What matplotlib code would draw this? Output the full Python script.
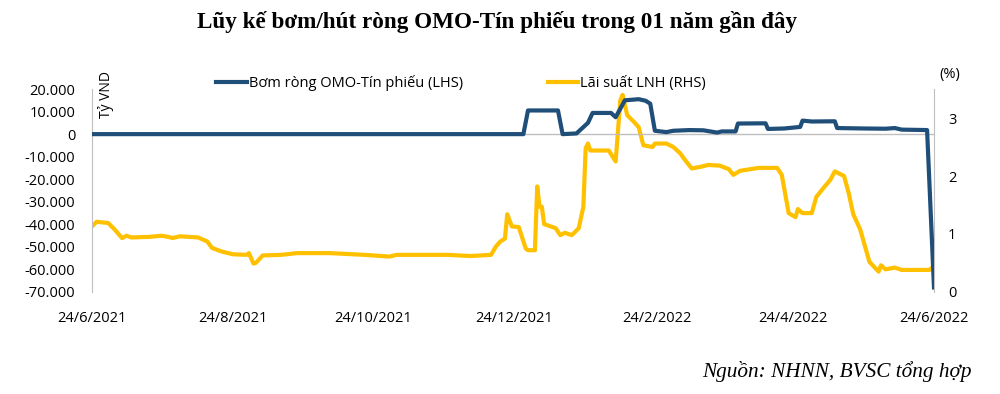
import matplotlib
matplotlib.use("Agg")
import matplotlib.pyplot as plt
import pandas as pd

plt.rcParams["font.family"] = ["Open Sans", "DejaVu Sans"]

# net OMO / bill injection, bn VND (left axis)
omo_dates = [
    "2021-06-24", "2021-12-28", "2021-12-30", "2022-01-12", "2022-01-14",
    "2022-01-20", "2022-01-25", "2022-01-27", "2022-02-04", "2022-02-06",
    "2022-02-10", "2022-02-16", "2022-02-19", "2022-02-21", "2022-02-23",
    "2022-02-28", "2022-03-03", "2022-03-10", "2022-03-16", "2022-03-22",
    "2022-03-24", "2022-03-30", "2022-03-31", "2022-04-12", "2022-04-13",
    "2022-04-20", "2022-04-27", "2022-04-28", "2022-05-02", "2022-05-12",
    "2022-05-13", "2022-05-25", "2022-06-03", "2022-06-07", "2022-06-10",
    "2022-06-21", "2022-06-24",
]
omo_values = [
    0, 0, 10500, 10500, 0,
    300, 5000, 9400, 9400, 7500,
    15000, 15500, 14800, 13500, 1500,
    900, 1500, 1800, 1700, 700,
    1200, 1200, 4700, 4800, 2300,
    2500, 3200, 6000, 5600, 5700,
    2700, 2500, 2400, 2700, 2000,
    1800, -68000,
]

# interbank rate, % (right axis)
lnh_dates = [
    "2021-06-24", "2021-06-26", "2021-07-01", "2021-07-04", "2021-07-07",
    "2021-07-09", "2021-07-11", "2021-07-19", "2021-07-24", "2021-07-27",
    "2021-07-29", "2021-08-01", "2021-08-09", "2021-08-13", "2021-08-15",
    "2021-08-19", "2021-08-24", "2021-08-30", "2021-08-31", "2021-09-02",
    "2021-09-03", "2021-09-06", "2021-09-14", "2021-09-21", "2021-10-05",
    "2021-10-20", "2021-10-31", "2021-11-03", "2021-11-11", "2021-11-25",
    "2021-12-05", "2021-12-14", "2021-12-16", "2021-12-18", "2021-12-20",
    "2021-12-21", "2021-12-23", "2021-12-26", "2021-12-29", "2021-12-30",
    "2022-01-02", "2022-01-03", "2022-01-04", "2022-01-05", "2022-01-06",
    "2022-01-11", "2022-01-13", "2022-01-15", "2022-01-18", "2022-01-21",
    "2022-01-23", "2022-01-24", "2022-01-25", "2022-01-26", "2022-02-03",
    "2022-02-06", "2022-02-08", "2022-02-09", "2022-02-11", "2022-02-14",
    "2022-02-16", "2022-02-18", "2022-02-22", "2022-02-23", "2022-02-28",
    "2022-03-03", "2022-03-06", "2022-03-08", "2022-03-11", "2022-03-15",
    "2022-03-18", "2022-03-23", "2022-03-27", "2022-03-29", "2022-04-01",
    "2022-04-09", "2022-04-17", "2022-04-19", "2022-04-22", "2022-04-25",
    "2022-04-26", "2022-04-28", "2022-05-02", "2022-05-04", "2022-05-07",
    "2022-05-10", "2022-05-12", "2022-05-16", "2022-05-18", "2022-05-20",
    "2022-05-23", "2022-05-27", "2022-05-31", "2022-06-01", "2022-06-03",
    "2022-06-07", "2022-06-10", "2022-06-22", "2022-06-24",
]
lnh_values = [
    1.13, 1.21, 1.19, 1.07, 0.93,
    0.97, 0.94, 0.95, 0.97, 0.95,
    0.93, 0.96, 0.94, 0.87, 0.76,
    0.70, 0.65, 0.64, 0.67, 0.49,
    0.50, 0.63, 0.64, 0.67, 0.67,
    0.64, 0.61, 0.64, 0.64, 0.64,
    0.62, 0.64, 0.78, 0.87, 0.92,
    1.34, 1.13, 1.12, 0.75, 0.72,
    0.72, 1.82, 1.47, 1.47, 1.17,
    1.10, 0.98, 1.02, 0.98, 1.10,
    1.47, 2.48, 2.56, 2.44, 2.44,
    2.25, 3.30, 3.40, 3.05, 2.93,
    2.84, 2.53, 2.50, 2.56, 2.56,
    2.50, 2.39, 2.28, 2.13, 2.16,
    2.19, 2.18, 2.12, 2.02, 2.09,
    2.14, 2.14, 2.02, 1.36, 1.29,
    1.43, 1.36, 1.36, 1.64, 1.79,
    1.93, 2.08, 2.00, 1.71, 1.34,
    1.08, 0.52, 0.35, 0.46, 0.39,
    0.42, 0.38, 0.38, 0.45,
]

tick_dates = ["2021-06-24", "2021-08-24", "2021-10-24", "2021-12-24",
              "2022-02-24", "2022-04-24", "2022-06-24"]
tick_labels = ["24/6/2021", "24/8/2021", "24/10/2021", "24/12/2021",
               "24/2/2022", "24/4/2022", "24/6/2022"]
left_ticks = list(range(-70000, 20001, 10000))
right_ticks = [0, 1, 2, 3]

BLUE = "#1F4E79"
YELLOW = "#FFC000"
GREY = "#BFBFBF"

fig = plt.figure(figsize=(10, 3.94), dpi=100)
ax = fig.add_axes([0.092, 0.259, 0.842, 0.515])
ax2 = ax.twinx()

omo_x = pd.to_datetime(omo_dates)
lnh_x = pd.to_datetime(lnh_dates)

ax.axhline(0, color=GREY, linewidth=1, zorder=1)
(l1,) = ax.plot(omo_x, omo_values, color=BLUE, linewidth=3,
                solid_joinstyle="round", label="Bơm ròng OMO-Tín phiếu (LHS)", zorder=3)
(l2,) = ax2.plot(lnh_x, lnh_values, color=YELLOW, linewidth=3,
                 solid_joinstyle="round", label="Lãi suất LNH (RHS)", zorder=2)
ax.set_zorder(ax2.get_zorder() + 1)
ax.patch.set_visible(False)

ax.set_xlim(pd.Timestamp("2021-06-24"), pd.Timestamp("2022-06-24"))
ax.set_ylim(-70000, 20000)
ax2.set_ylim(0, 3.5)

ax.set_yticks(left_ticks)
ax.set_yticklabels([f"{v:,}".replace(",", ".") for v in left_ticks])
ax2.set_yticks(right_ticks)
ax2.set_yticklabels([str(v) for v in right_ticks])
ax.set_xticks(pd.to_datetime(tick_dates))
ax.set_xticklabels(tick_labels)

for a in (ax, ax2):
    for s in ("top", "bottom", "left", "right"):
        a.spines[s].set_visible(False)
ax.spines["left"].set_visible(True)
ax.spines["left"].set_color(GREY)
ax2.spines["right"].set_visible(True)
ax2.spines["right"].set_color(GREY)

ax.tick_params(axis="y", length=0, pad=12, labelsize=10.5)
ax.tick_params(axis="x", length=0, pad=14, labelsize=10.5)
ax2.tick_params(axis="y", length=0, pad=10, labelsize=10.5)

fig.text(0.106, 0.76, "Tỷ VND", rotation=90, ha="center", va="center", fontsize=10)
fig.text(0.950, 0.81, "(%)", ha="center", va="center", fontsize=10.5)

fig.legend(handles=[l1, l2], loc="center left", bbox_to_anchor=(0.216, 1 - 83 / 394),
           ncol=2, frameon=False, fontsize=10.5, handlelength=2.1, handletextpad=0.15,
           columnspacing=5.8, borderpad=0, borderaxespad=0)

fig.text(0.497, 1 - 22 / 394, "Lũy kế bơm/hút ròng OMO-Tín phiếu trong 01 năm gần đây",
         ha="center", va="center", fontsize=16.7, fontweight="bold",
         family=["Liberation Serif", "DejaVu Serif"])
fig.text(0.972, 1 - 372 / 394, "Nguồn: NHNN, BVSC tổng hợp", ha="right", va="center",
         fontsize=15.3, style="italic", family=["Liberation Serif", "DejaVu Serif"])

fig.savefig("out.png", dpi=100)
